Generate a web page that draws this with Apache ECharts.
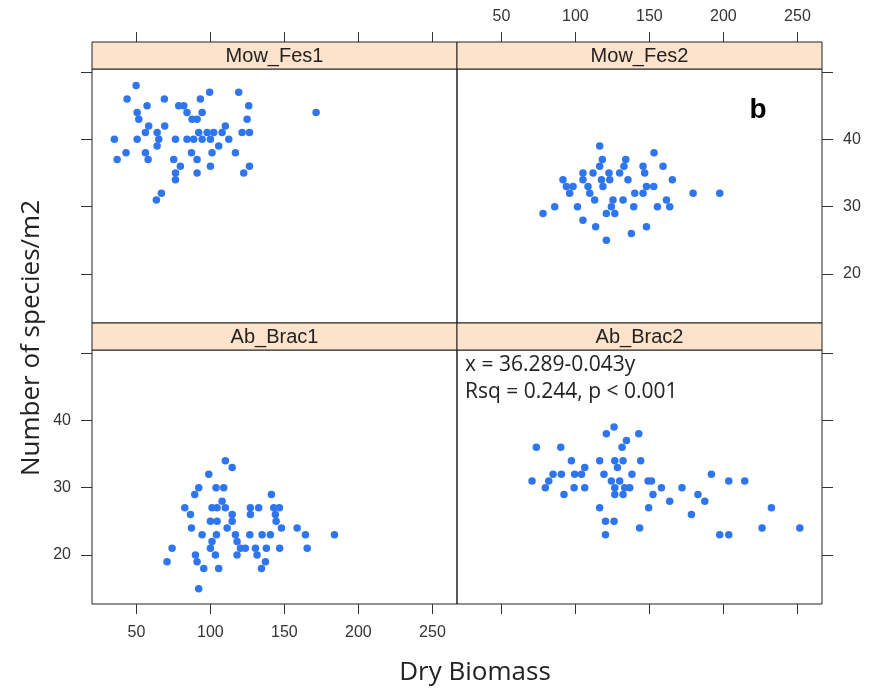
<!DOCTYPE html>
<html>
<head>
<meta charset="utf-8">
<script src="https://cdn.jsdelivr.net/npm/echarts@6/dist/echarts.min.js"></script>
<style>
html,body{margin:0;padding:0;background:#fff;}
#chart{width:871px;height:688px;}
</style>
</head>
<body>
<div id="chart"></div>
<script>
// ---- data ----
var panelNames = ['Mow_Fes1', 'Mow_Fes2', 'Ab_Brac1', 'Ab_Brac2'];
var xTicks = [50, 100, 150, 200, 250];
var yTicks = [20, 30, 40, 50];
var yLabels = [20, 30, 40];
var xTitle = 'Dry Biomass';
var yTitle = 'Number of species/m2';
var annotation = ['x = 36.289-0.043y', 'Rsq = 0.244, p < 0.001'];
var panelTag = 'b';

var mowFes1 = [
  [49.8,48],
  [99.5,47],[119.1,47],
  [43.7,46],[68.9,46],[93.2,46],
  [57.2,45],[78.6,45],[82.0,45],[125.9,45],
  [50.5,44],[84.2,44],[94.4,44],[171.4,44],
  [51.6,43],[87.6,43],[91.0,43],[124.8,43],
  [58.3,42],[69.1,42],[110.1,42],
  [56.1,41],[64.0,41],[92.1,41],[97.8,41],[102.2,41],[107.9,41],[121.4,41],[126.4,41],
  [35.1,40],[50.5,40],[65.1,40],[76.4,40],[84.2,40],[88.7,40],[94.4,40],[100.0,40],[112.4,40],
  [64.0,39],[105.6,39],
  [43.0,38],[56.1,38],[87.2,38],[101.1,38],[116.9,38],
  [37.0,37],[57.9,37],[75.2,37],[91.0,37],
  [79.7,36],[100.0,36],[126.4,36],
  [76.4,35],[91.0,35],[122.5,35],
  [76.4,34],
  [66.9,32],
  [63.5,31]
];

var mowFes2 = [
  [116.4,39],
  [153.1,38],
  [118.2,37],[134.0,37],
  [116.4,36],[132.8,36],[145.7,36],[159.2,36],
  [105.1,35],[111.9,35],[122.7,35],[129.9,35],[146.8,35],
  [91.6,34],[105.1,34],[117.6,34],[123.2,34],[135.5,34],[165.5,34],
  [93.9,33],[98.4,33],[108.5,33],[118.6,33],[148.0,33],[152.9,33],
  [96.1,32],[109.7,32],[140.1,32],[145.7,32],[179.5,32],[197.5,32],
  [113.0,31],[125.4,31],[132.2,31],[161.5,31],
  [86.0,30],[101.4,30],[124.3,30],[139.4,30],[155.4,30],[163.7,30],
  [78.1,29],[120.9,29],[126.6,29],
  [105.1,28],
  [113.7,27],[148.0,27],
  [137.8,26],
  [120.9,25]
];

var abBrac1 = [
  [110.1,34],
  [114.7,33],
  [98.9,32],
  [92.1,30],[103.8,30],[109.0,30],
  [89.4,29],[141.2,29],
  [107.9,28],
  [82.7,27],[101.1,27],[104.5,27],[110.1,27],[127.0,27],[132.6,27],[142.8,27],[146.6,27],
  [86.5,26],[114.7,26],[127.0,26],[143.9,26],
  [100.0,25],[104.5,25],[114.7,25],[144.4,25],
  [87.2,24],[111.3,24],[148.0,24],[158.6,24],
  [94.4,23],[104.1,23],[116.9,23],[126.6,23],[134.9,23],[140.5,23],[164.2,23],[183.8,23],
  [101.1,22],[118.0,22],
  [74.1,21],[100.0,21],[120.3,21],[123.6,21],[130.4,21],[137.8,21],[146.8,21],[165.4,21],
  [89.9,20],[103.4,20],[118.0,20],[131.5,20],
  [70.7,19],[91.0,19],[137.2,19],
  [95.5,18],[105.6,18],[134.5,18],
  [92.1,15]
];

var abBrac2 = [
  [126.1,39],
  [120.9,38],[142.8,38],
  [134.5,37],
  [73.6,36],[90.1,36],[131.5,36],
  [97.3,34],[116.4,34],[126.6,34],[132.2,34],[144.1,34],
  [106.3,33],[128.4,33],
  [84.9,32],[90.5,32],[99.5,32],[104.1,32],[119.3,32],[138.2,32],[191.9,32],
  [70.7,31],[82.0,31],[124.3,31],[129.9,31],[149.1,31],[151.4,31],[203.6,31],[214.4,31],
  [79.7,30],[99.1,30],[106.3,30],[126.6,30],[133.3,30],[136.7,30],[158.1,30],[172.0,30],
  [92.3,29],[126.6,29],[132.2,29],[152.4,29],[182.8,29],
  [163.7,28],[187.4,28],
  [116.4,27],[149.5,27],[232.4,27],
  [178.4,26],
  [120.3,25],[126.1,25],
  [143.4,24],[226.1,24],[251.6,24],
  [120.3,23],[197.5,23],[203.6,23]
];
var panelData = [mowFes1, mowFes2, abBrac1, abBrac2];

// ---- layout ----
var L = 92, M = 457, R = 822;
var stripH = 27;
var top1 = 69, plotH = 254, top2 = 350;
var X_MIN = 20.0, X_MAX = 266.6, Y_MIN = 12.72, Y_MAX = 50.45;
var POINT = '#2f76ee';
var LINE = '#222';
var TXT = '#333';
var stripFill = '#fee3cc';

var grids = [
  {left: L, top: top1, width: M - L, height: plotH},
  {left: M, top: top1, width: R - M, height: plotH},
  {left: L, top: top2, width: M - L, height: plotH},
  {left: M, top: top2, width: R - M, height: plotH}
].map(function (g) {
  return Object.assign({show: true, borderColor: LINE, borderWidth: 1, backgroundColor: 'transparent', containLabel: false}, g);
});

function xAx(gi, pos, showLab, offset, margin) {
  return {
    type: 'value', gridIndex: gi, position: pos, offset: offset,
    min: X_MIN, max: X_MAX,
    axisLine: {show: false},
    splitLine: {show: false},
    axisTick: {show: true, length: 10, customValues: xTicks, lineStyle: {color: TXT, width: 1}},
    axisLabel: {show: showLab, customValues: xTicks, margin: margin, fontSize: 16,
      fontFamily: 'Liberation Sans', color: TXT}
  };
}
function yAx(gi, pos, showLab) {
  return {
    type: 'value', gridIndex: gi, position: pos,
    min: Y_MIN, max: Y_MAX,
    axisLine: {show: false},
    splitLine: {show: false},
    axisTick: {show: true, length: 11, customValues: yTicks, lineStyle: {color: TXT, width: 1}},
    axisLabel: {show: showLab, customValues: yLabels, margin: 21, fontSize: 16,
      fontFamily: 'Liberation Sans', color: TXT}
  };
}

var xAxes = [
  xAx(0, 'top', false, stripH, 17),
  xAx(1, 'top', true, stripH, 17),
  xAx(2, 'bottom', true, 0, 21),
  xAx(3, 'bottom', false, 0, 21)
];
var yAxes = [
  yAx(0, 'left', false),
  yAx(1, 'right', true),
  yAx(2, 'left', true),
  yAx(3, 'right', false)
];

var series = panelData.map(function (d, i) {
  return {
    name: panelNames[i], type: 'scatter', xAxisIndex: i, yAxisIndex: i,
    data: d, symbol: 'circle', symbolSize: 7.5,
    itemStyle: {color: POINT, opacity: 1},
    silent: true
  };
});

var graphics = [];
var stripPos = [
  [L, top1 - stripH, M - L], [M, top1 - stripH, R - M],
  [L, top2 - stripH, M - L], [M, top2 - stripH, R - M]
];
stripPos.forEach(function (s, i) {
  graphics.push({type: 'rect', shape: {x: s[0], y: s[1], width: s[2], height: stripH},
    style: {fill: stripFill, stroke: LINE, lineWidth: 1}, z: 10});
  graphics.push({type: 'text', x: s[0] + s[2] / 2, y: s[1] + stripH / 2 + 1,
    style: {text: panelNames[i], fill: '#222', font: '20px "Liberation Sans"', align: 'center', verticalAlign: 'middle'}, z: 11});
});
graphics.push({type: 'text', x: 475, y: 673,
  style: {text: xTitle, fill: '#222', font: '26px "Open Sans"', align: 'center', verticalAlign: 'middle'}});
graphics.push({type: 'text', x: 32, y: 338, rotation: Math.PI / 2,
  style: {text: yTitle, fill: '#222', font: '26px "Open Sans"', align: 'center', verticalAlign: 'middle'}});
graphics.push({type: 'text', x: 465, y: 365,
  style: {text: annotation[0], fill: '#222', font: '21px "Open Sans"', align: 'left', verticalAlign: 'middle'}});
graphics.push({type: 'text', x: 465, y: 392,
  style: {text: annotation[1], fill: '#222', font: '21px "Open Sans"', align: 'left', verticalAlign: 'middle'}});
graphics.push({type: 'text', x: 758, y: 110,
  style: {text: panelTag, fill: '#000', font: 'bold 28px "Liberation Sans"', align: 'center', verticalAlign: 'middle'}});

var chart = echarts.init(document.getElementById('chart'), null, {renderer: 'canvas'});
chart.setOption({
  animation: false,
  backgroundColor: '#fff',
  grid: grids,
  xAxis: xAxes,
  yAxis: yAxes,
  series: series,
  graphic: graphics
});
</script>
</body>
</html>
